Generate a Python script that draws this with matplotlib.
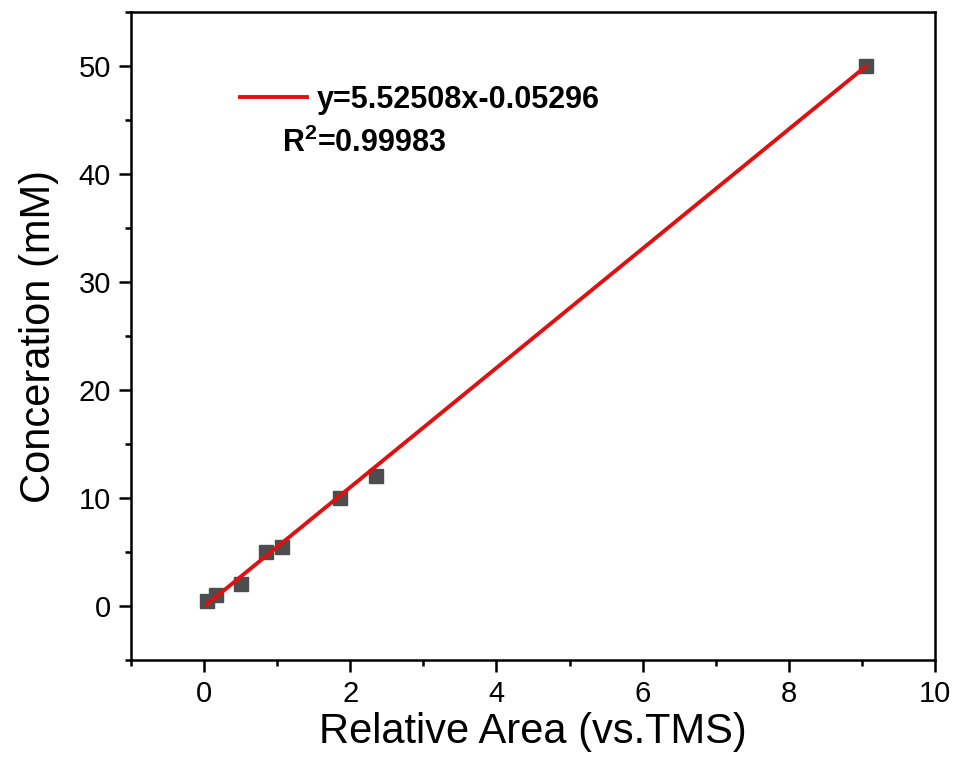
import matplotlib

matplotlib.use("Agg")
import matplotlib.pyplot as plt
from matplotlib.ticker import MultipleLocator
import numpy as np

# Data
rel_area = [0.04, 0.16, 0.50, 0.85, 1.07, 1.86, 2.35, 9.05]
conc_mM = [0.5, 1.0, 2.0, 5.0, 5.5, 10.0, 12.0, 50.0]

SLOPE = 5.52508
INTERCEPT = -0.05296
R2 = 0.99983

plt.rcParams.update({
    "font.family": ["Liberation Sans", "DejaVu Sans"],
    "axes.linewidth": 1.8,
    "mathtext.fontset": "custom",
    "mathtext.rm": "Liberation Sans",
    "mathtext.bf": "Liberation Sans:bold",
})

fig = plt.figure(figsize=(9.58, 7.69), dpi=100)
ax = fig.add_axes([0.1367, 0.1417, 0.8393, 0.8427])

# fitted line over data range
xfit = np.array([min(rel_area), max(rel_area)])
ax.plot(xfit, SLOPE * xfit + INTERCEPT, color="#e01010", lw=2.8, zorder=3,
        label=f"y={SLOPE:.5f}x{INTERCEPT:.5f}")
ax.plot(rel_area, conc_mM, ls="none", marker="s", ms=10, color="#4d4d4d",
        zorder=2)

ax.set_xlim(-1, 10)
ax.set_ylim(-5, 55)
ax.xaxis.set_major_locator(MultipleLocator(2))
ax.xaxis.set_minor_locator(MultipleLocator(1))
ax.yaxis.set_major_locator(MultipleLocator(10))
ax.yaxis.set_minor_locator(MultipleLocator(5))
ax.tick_params(which="major", direction="out", length=8.5, width=1.8,
               labelsize=21, pad=6)
ax.tick_params(which="minor", direction="out", length=4.5, width=1.8)
ax.tick_params(top=False, right=False, which="both")

ax.set_xlabel("Relative Area (vs.TMS)", fontsize=30, labelpad=3)
ax.set_ylabel("Conceration (mM)", fontsize=30, labelpad=14)

leg = ax.legend(loc="center left", bbox_to_anchor=(0.1356, 0.864),
                frameon=False, borderpad=0, borderaxespad=0,
                handlelength=2.2, handletextpad=0.3,
                prop={"size": 22, "weight": "bold"})
ax.text(0.188, 0.798, r"R$^{\mathbf{2}}$" + f"={R2:.5f}", transform=ax.transAxes,
        fontsize=22, fontweight="bold", ha="left", va="center")

fig.savefig("out.png", dpi=100)
